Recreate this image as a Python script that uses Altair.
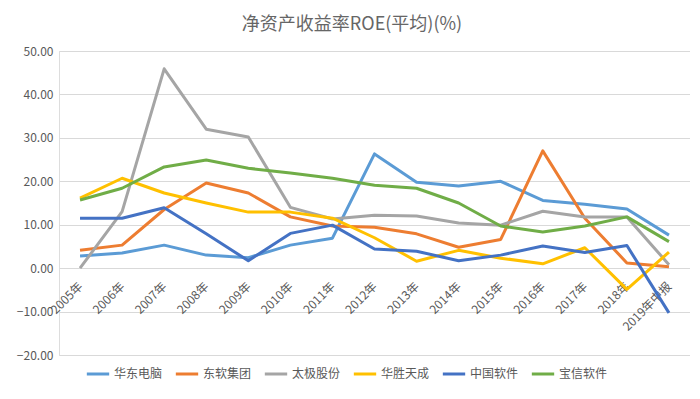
import altair as alt
import pandas as pd

years = ["2005年", "2006年", "2007年", "2008年", "2009年", "2010年", "2011年", "2012年",
         "2013年", "2014年", "2015年", "2016年", "2017年", "2018年", "2019年中报"]

series_names = ["华东电脑", "东软集团", "太极股份", "华胜天成", "中国软件", "宝信软件"]
colors = ["#5B9BD5", "#ED7D31", "#A5A5A5", "#FFC000", "#4472C4", "#70AD47"]

huadong = [2.8, 3.5, 5.3, 3.0, 2.4, 5.3, 6.9, 26.3, 19.8, 18.9, 20.0, 15.6, 14.7, 13.6, 7.6]
dongruan = [4.1, 5.3, 13.5, 19.6, 17.3, 11.8, 9.7, 9.4, 7.9, 4.8, 6.6, 27.0, 11.5, 1.2, 0.3]
taiji = [0.0, 13.0, 45.9, 32.0, 30.2, 14.0, 11.3, 12.2, 12.0, 10.4, 9.9, 13.1, 11.8, 11.8, 0.8]
huasheng = [16.1, 20.7, 17.3, 15.0, 12.9, 12.9, 11.5, 7.0, 1.6, 4.1, 2.3, 1.0, 4.7, -4.9, 3.7]
zhongruan = [11.5, 11.5, 13.9, 7.9, 1.7, 8.0, 9.9, 4.4, 3.9, 1.7, 3.0, 5.1, 3.6, 5.2, -10.3]
baoxin = [15.7, 18.4, 23.3, 24.9, 23.0, 21.9, 20.7, 19.1, 18.4, 15.0, 9.7, 8.3, 9.7, 11.8, 6.1]

values = [huadong, dongruan, taiji, huasheng, zhongruan, baoxin]
rows = []
for name, vals in zip(series_names, values):
    for y, v in zip(years, vals):
        rows.append({"year": y, "company": name, "roe": v})
df = pd.DataFrame(rows)

FONT = "Noto Sans CJK SC"
W, H = 631, 304

chart = alt.Chart(df).mark_line(strokeWidth=3, strokeJoin="round").encode(
    x=alt.X("year:N", sort=years, title=None,
            axis=alt.Axis(orient="bottom", offset=-round(H * 20 / 70), domain=False, ticks=False,
                          labelAngle=-45, labelAlign="right", labelBaseline="middle",
                          labelPadding=16, labelFontSize=12, labelColor="#595959",
                          labelFont=FONT, grid=False)),
    y=alt.Y("roe:Q", title=None,
            scale=alt.Scale(domain=[-20, 50], nice=False),
            axis=alt.Axis(values=list(range(-20, 51, 10)), format=".2f", domain=False, ticks=False,
                          labelFontSize=12, labelColor="#595959", labelFont=FONT,
                          gridColor="#D9D9D9", gridWidth=1, labelPadding=6,
                          minExtent=45, maxExtent=45)),
    color=alt.Color("company:N", sort=series_names,
                    scale=alt.Scale(domain=series_names, range=colors),
                    legend=alt.Legend(title=None, orient="none", direction="horizontal",
                                      legendX=26, legendY=310,
                                      symbolType="stroke", symbolStrokeWidth=3, symbolSize=500,
                                      labelFontSize=12, labelColor="#595959", labelFont=FONT,
                                      columnPadding=6, labelOffset=3)),
    order=alt.Order("company:N"),
).properties(
    width=W, height=H,
    title=alt.Title("净资产收益率ROE(平均)(%)", fontSize=18, color="#666666",
                    font=FONT, fontWeight="normal", anchor="middle", frame="bounds", offset=11),
    padding={"left": 6, "top": 8, "right": 0, "bottom": 0},
).configure_view(stroke=None).configure(background="white")

chart.save("out.html", embed_options={"renderer": "svg", "actions": False})
